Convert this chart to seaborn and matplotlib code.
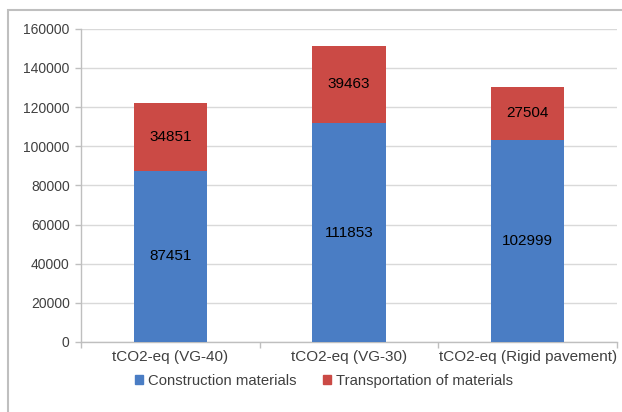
import matplotlib
matplotlib.use("Agg")
import matplotlib.pyplot as plt
import matplotlib.patches as mpatches
import seaborn as sns
import pandas as pd

categories = ["tCO2-eq (VG-40)", "tCO2-eq (VG-30)", "tCO2-eq (Rigid pavement)"]
construction = [87451, 111853, 102999]
transportation = [34851, 39463, 27504]
yticks = [0, 20000, 40000, 60000, 80000, 100000, 120000, 140000, 160000]

BLUE = "#4A7DC4"
RED = "#CB4A45"
GRID = "#D9D9D9"
TEXT = "#404040"

sns.set_theme(style="white")
plt.rcParams["font.family"] = ["Liberation Sans", "DejaVu Sans"]

df = pd.DataFrame({
    "category": categories,
    "construction": construction,
    "transportation": transportation,
})
df["total"] = df["construction"] + df["transportation"]

fig = plt.figure(figsize=(6.22, 4.12), dpi=100)
ax = fig.add_axes([0.130, 0.170, 0.862, 0.760])

# stacked bars: the full total in red, then the construction share over it in blue
sns.barplot(data=df, x="category", y="total", color=RED, width=0.41,
            saturation=1, linewidth=0, ax=ax, zorder=3)
sns.barplot(data=df, x="category", y="construction", color=BLUE, width=0.41,
            saturation=1, linewidth=0, ax=ax, zorder=3)

for i, (c, t) in enumerate(zip(construction, transportation)):
    ax.text(i, c / 2, f"{c}", ha="center", va="center", fontsize=11,
            color="black", zorder=4)
    ax.text(i, c + t / 2, f"{t}", ha="center", va="center", fontsize=11,
            color="black", zorder=4)

ax.set_ylim(0, 160000)
ax.set_xlim(-0.5, 2.5)
ax.set_yticks(yticks)
ax.set_yticklabels([str(v) for v in yticks])
ax.yaxis.grid(True, color=GRID, linewidth=1, zorder=0)
ax.xaxis.grid(False)
ax.set_axisbelow(True)
ax.set_xlabel("")
ax.set_ylabel("")

for s in ["top", "right"]:
    ax.spines[s].set_visible(False)
for s in ["left", "bottom"]:
    ax.spines[s].set_color("#BFBFBF")
    ax.spines[s].set_linewidth(1)

ax.tick_params(axis="y", length=4, width=1, color="#BFBFBF", labelsize=10,
               labelcolor=TEXT, pad=4, left=True)
ax.tick_params(axis="x", length=0, labelsize=11, labelcolor=TEXT, pad=6)
# category boundary ticks on the x axis
ax.set_xticks([-0.5, 0.5, 1.5, 2.5], minor=True)
ax.tick_params(axis="x", which="minor", length=4, width=1, color="#BFBFBF",
               bottom=True)

handles = [mpatches.Patch(color=BLUE, label="Construction materials"),
           mpatches.Patch(color=RED, label="Transportation of materials")]
fig.legend(handles=handles, loc="center", bbox_to_anchor=(324 / 622, 1 - 381 / 412),
           ncol=2, frameon=False, fontsize=10.7, handlelength=0.55,
           handleheight=0.55, handletextpad=0.3, columnspacing=1.8,
           labelcolor=TEXT)

# chart frame (runs off the right and bottom edges)
fig.patches.append(mpatches.Rectangle((8 / 622, -0.05), 1.1, 1 - 10 / 412 + 0.05,
                                      transform=fig.transFigure, fill=False,
                                      edgecolor="#BFBFBF", linewidth=1.5))

fig.savefig("out.png", dpi=100)
